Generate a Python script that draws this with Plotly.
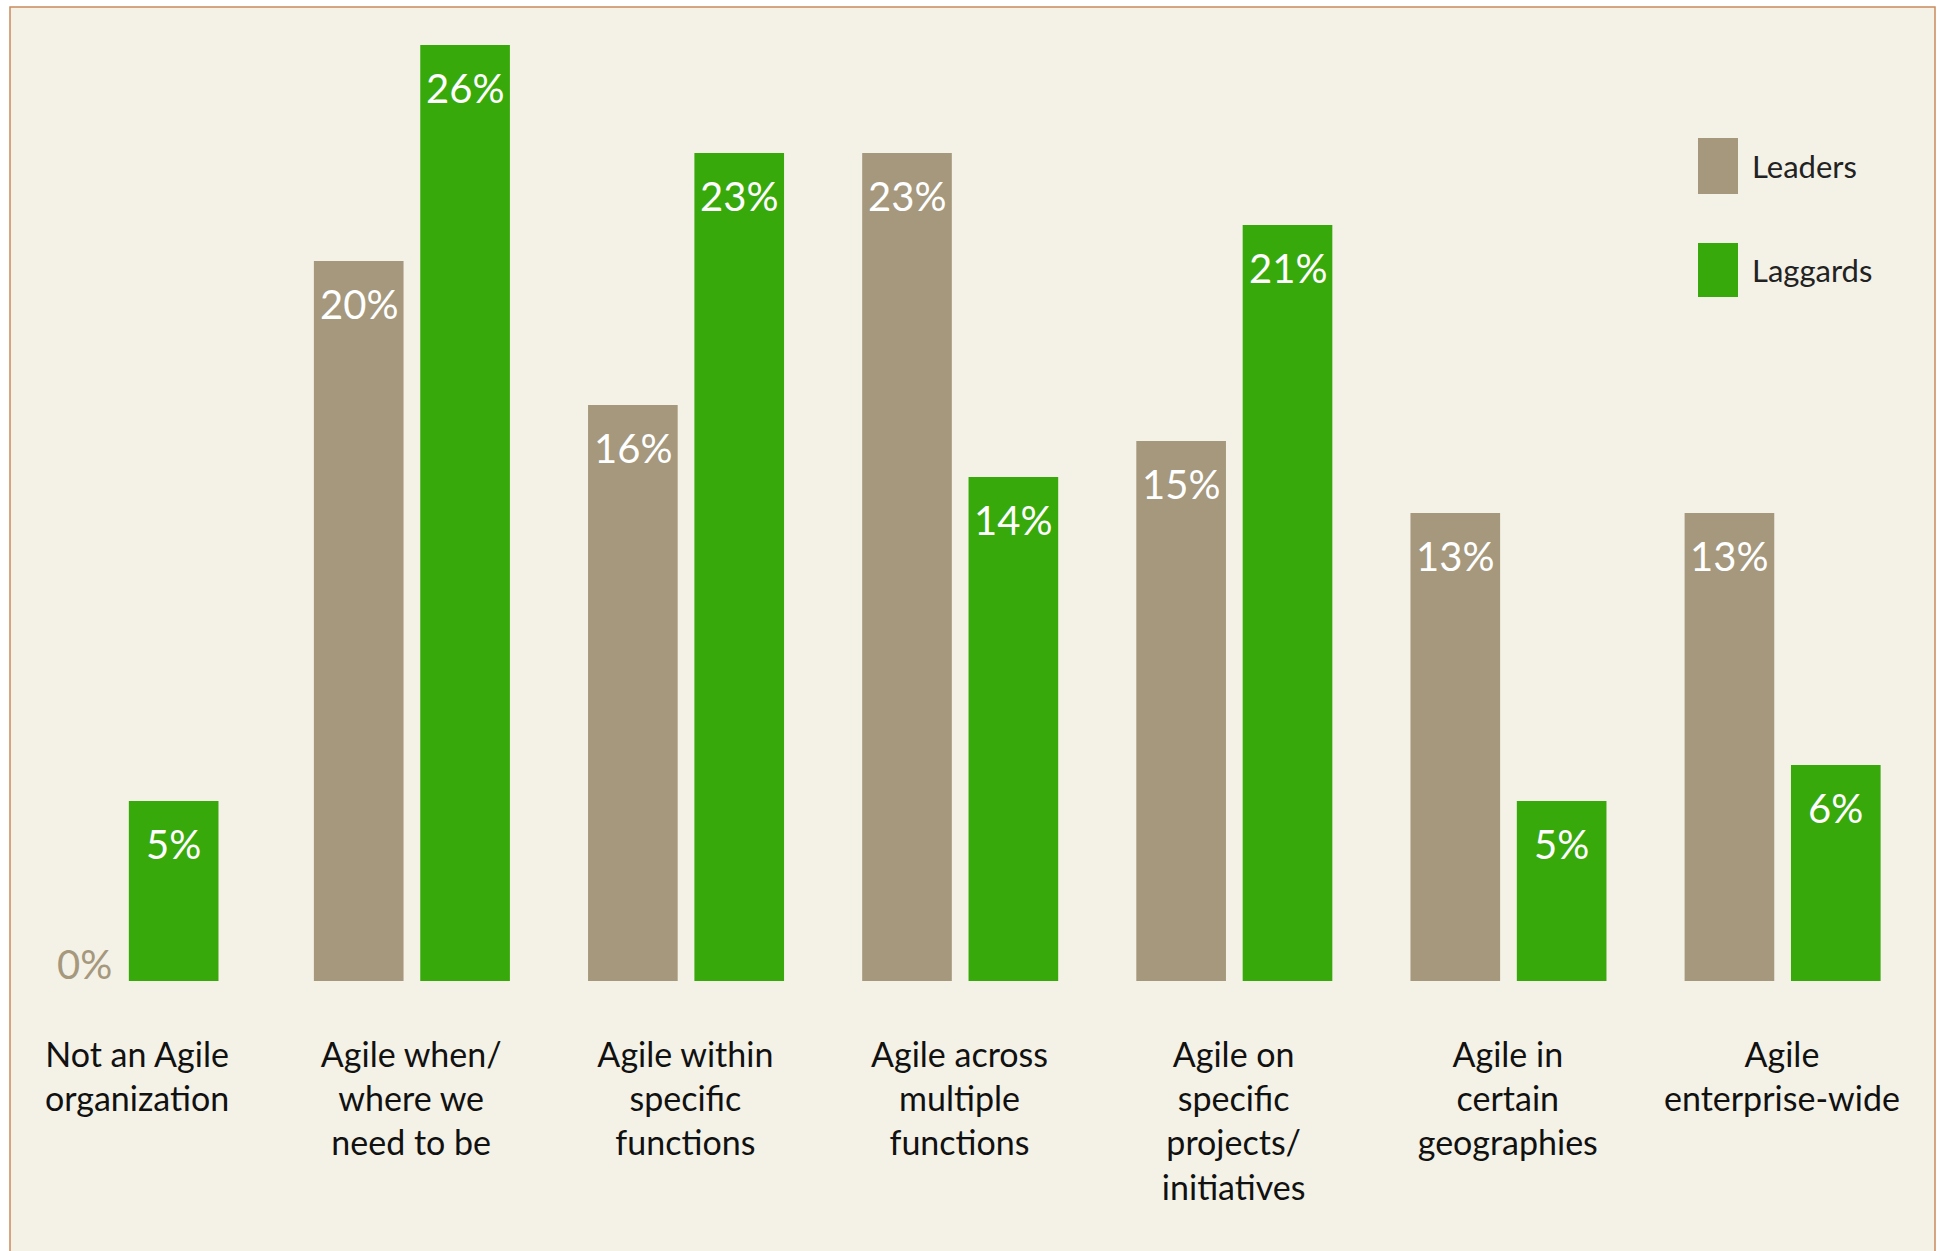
import plotly.graph_objects as go

# ---- data -------------------------------------------------------------
categories = [
    "Not an Agile<br>organization",
    "Agile when/<br>where we<br>need to be",
    "Agile within<br>specific<br>functions",
    "Agile across<br>multiple<br>functions",
    "Agile on<br>specific<br>projects/<br>initiatives",
    "Agile in<br>certain<br>geographies",
    "Agile<br>enterprise-wide",
]
leaders = [0, 20, 16, 23, 15, 13, 13]
laggards = [5, 26, 23, 14, 21, 5, 6]
series_names = ["Leaders", "Laggards"]

# ---- styling ----------------------------------------------------------
W, H = 1939, 1251
ML, MR, MT, MB = 0, 20, 6, 270
PLOT_W = W - ML - MR
PLOT_H = H - MT - MB
Y_TOP = 27.08

TAN = "#a5987d"
GREEN = "#38a90b"
CREAM = "#f4f1e6"
FRAME = "#c98b5e"
FONT = "Lato, Roboto, sans-serif"

BAR_W = 0.327
LEAD_OFF = [-0.355] * len(categories)
LAG_OFF = [-0.03] + [0.033] * (len(categories) - 1)

xs = list(range(len(categories)))


def px_x(p):
    return (p - ML) / PLOT_W


def px_y(p):
    return (H - MB - p) / PLOT_H


fig = go.Figure()
fig.add_trace(go.Bar(x=xs, y=leaders, name=series_names[0], marker_color=TAN,
                     width=BAR_W, offset=LEAD_OFF, showlegend=False,
                     marker_line_width=0))
fig.add_trace(go.Bar(x=xs, y=laggards, name=series_names[1], marker_color=GREEN,
                     width=BAR_W, offset=LAG_OFF, showlegend=False,
                     marker_line_width=0))

# value labels
annotations = []
for vals, offs in ((leaders, LEAD_OFF), (laggards, LAG_OFF)):
    for i, v in enumerate(vals):
        xc = xs[i] + offs[i] + BAR_W / 2
        if v == 0:
            annotations.append(dict(x=xc, y=0, xref="x", yref="y", text=f"{v}%",
                                    showarrow=False, yanchor="bottom", yshift=-9,
                                    font=dict(family=FONT, size=40, color=TAN)))
        else:
            annotations.append(dict(x=xc, y=v, xref="x", yref="y", text=f"{v}%",
                                    showarrow=False, yanchor="top", yshift=-17,
                                    font=dict(family=FONT, size=40, color="white")))

# legend drawn as swatches + text
shapes = [
    # cream panel and thin frame
    dict(type="rect", xref="paper", yref="paper", layer="below",
         x0=px_x(10), x1=px_x(1935), y0=px_y(1270), y1=px_y(7),
         fillcolor=CREAM, line=dict(color=FRAME, width=1.5)),
]
legend_rows = [(series_names[0], TAN, 138, 194), (series_names[1], GREEN, 243, 297)]
for name, col, top, bot in legend_rows:
    shapes.append(dict(type="rect", xref="paper", yref="paper",
                       x0=px_x(1698), x1=px_x(1738), y0=px_y(bot), y1=px_y(top),
                       fillcolor=col, line=dict(width=0)))
    annotations.append(dict(x=px_x(1750), y=px_y((top + bot) / 2), xref="paper", yref="paper",
                            text=name, showarrow=False, xanchor="left", yanchor="middle",
                            font=dict(family=FONT, size=31, color="#222222")))

fig.update_layout(
    width=W, height=H,
    margin=dict(l=ML, r=MR, t=MT, b=MB, autoexpand=False),
    paper_bgcolor="white",
    plot_bgcolor="rgba(0,0,0,0)",
    barmode="overlay",
    shapes=shapes,
    annotations=annotations,
    xaxis=dict(range=[-0.5, 6.5], tickvals=xs, ticktext=categories,
               showgrid=False, zeroline=False, showline=False, ticks="",
               automargin=False, ticklabelstandoff=51,
               tickfont=dict(family=FONT, size=34, color="#111111")),
    yaxis=dict(range=[0, Y_TOP], visible=False, showgrid=False, zeroline=False,
               automargin=False),
)

fig.write_html("out.html")
